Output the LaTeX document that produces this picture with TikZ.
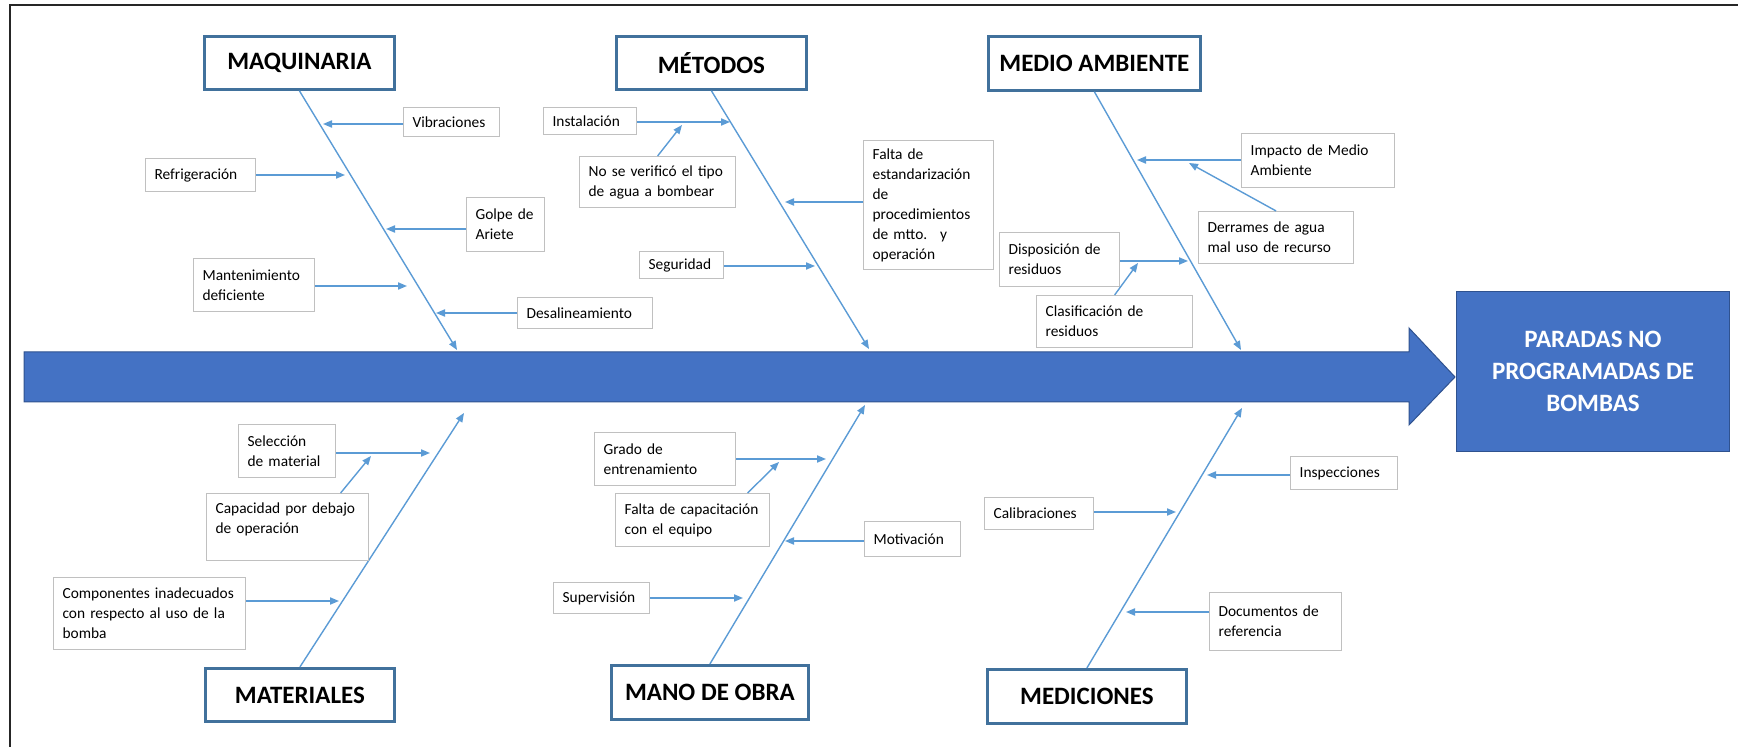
\documentclass[tikz,border=0pt]{standalone}
\usepackage{fontspec}
\setmainfont{Carlito}
\usetikzlibrary{arrows.meta}

\definecolor{azulfondo}{HTML}{4472C4}
\definecolor{azulborde}{HTML}{2F528F}
\definecolor{azulhueso}{HTML}{5B9BD5}
\definecolor{azulcat}{HTML}{41719C}
\definecolor{grisborde}{HTML}{C0C0C0}

\tikzset{
  categoria/.style={draw=azulcat, line width=1.4pt, fill=white, anchor=north west, inner sep=0pt, font=\fontsize{12.5}{15}\selectfont\bfseries},
  causa/.style={draw=grisborde, line width=0.6pt, fill=white, anchor=north west, align=left, inner xsep=4.5pt, inner ysep=3pt, font=\fontsize{7.7}{10}\selectfont},
  hueso/.style={draw=azulhueso, line width=0.7pt, -{Triangle[length=4.5pt,width=3.6pt]}},
  efecto/.style={fill=azulfondo, draw=azulborde, line width=0.5pt, anchor=north west, align=center, text=white, font=\fontsize{12.5}{16}\selectfont\bfseries}
}

\begin{document}
\begin{tikzpicture}[x=0.5pt, y=-0.5pt]
\useasboundingbox (0,0) rectangle (1738,747);

% Frame
\draw[line width=1pt, black!85] (9.5,747) -- (9.5,5) -- (1738,5);

% Spine with arrow head
\filldraw[fill=azulfondo, draw=azulborde, line width=0.5pt] (24,352) -- (1409,352) -- (1409,328) -- (1455,377) -- (1409,425) -- (1409,402) -- (24,402) -- cycle;

% Effect
\node[efecto, minimum width=136.5pt, minimum height=80pt] (efec) at (1456,291) {PARADAS NO\\PROGRAMADAS DE\\BOMBAS};

% Categories
\node[categoria, minimum width=95pt, minimum height=26.5pt] (maq) at (203,35) {MAQUINARIA};
\node[categoria, minimum width=95pt, minimum height=26.5pt] (met) at (615,35) {MÉTODOS};
\node[categoria, minimum width=106pt, minimum height=27pt] (med) at (987,35) {MEDIO AMBIENTE};
\node[categoria, minimum width=94.5pt, minimum height=26.5pt] (mat) at (204,667) {MATERIALES};
\node[categoria, minimum width=98.5pt, minimum height=27pt] (mano) at (610,664) {MANO DE OBRA};
\node[categoria, minimum width=99.5pt, minimum height=27pt] (medic) at (986,668) {MEDICIONES};

% Bone ends
\coordinate (maq-p) at (457,350);
\coordinate (met-p) at (869,349);
\coordinate (med-p) at (1241,350);
\coordinate (mat-p) at (464,413);
\coordinate (mano-p) at (865,405);
\coordinate (medic-p) at (1242,408);

\draw[hueso] (maq.south) -- (maq-p);
\draw[hueso] (met.south) -- (met-p);
\draw[hueso] (med.south) -- (med-p);
\draw[hueso] (mat.north) -- (mat-p);
\draw[hueso] (mano.north) -- (mano-p);
\draw[hueso] (medic.north) -- (medic-p);

% Maquinaria
\node[causa, text width=39pt, minimum height=14.5pt] (vib) at (403,107) {Vibraciones};
\node[causa, text width=46pt, minimum height=16.5pt] (refr) at (145,158) {Refrigeración};
\node[causa, text width=30pt, minimum height=27pt] (golpe) at (466,197) {Golpe de\\Ariete};
\node[causa, text width=51.5pt, minimum height=26.5pt] (mant) at (193,258) {Mantenimiento\\deficiente};
\node[causa, text width=58.5pt, minimum height=15.5pt] (desal) at (517,297) {Desalineamiento};
\coordinate (vib-p) at (323,124);
\coordinate (refr-p) at (345,175);
\coordinate (golpe-p) at (386,229);
\coordinate (mant-p) at (407,286);
\coordinate (desal-p) at (436,313);
\draw[hueso] (vib-p -| vib.west) -- (vib-p);
\draw[hueso] (refr-p -| refr.east) -- (refr-p);
\draw[hueso] (golpe-p -| golpe.west) -- (golpe-p);
\draw[hueso] (mant-p -| mant.east) -- (mant-p);
\draw[hueso] (desal-p -| desal.west) -- (desal-p);

% Metodos
\node[causa, text width=37.5pt, minimum height=13.5pt] (inst) at (543,107) {Instalación};
\node[causa, text width=69pt, minimum height=25.5pt] (noverif) at (579,156) {No se verificó el tipo\\de agua a bombear};
\node[causa, text width=56pt, minimum height=64.5pt] (faltaest) at (863,140) {Falta de\\estandarización\\de\\procedimientos\\de mtto.~ y\\operación};
\node[causa, text width=33pt, minimum height=13.5pt] (seg) at (639,251) {Seguridad};
\coordinate (inst-p) at (730,122);
\coordinate (noverif-p) at (682,125);
\coordinate (faltaest-p) at (785,202);
\coordinate (seg-p) at (815,266);
\draw[hueso] (inst-p -| inst.east) -- (inst-p);
\draw[hueso] (noverif.north) -- (noverif-p);
\draw[hueso] (faltaest-p -| faltaest.west) -- (faltaest-p);
\draw[hueso] (seg-p -| seg.east) -- (seg-p);

% Medio ambiente
\node[causa, text width=67.5pt, minimum height=27pt] (impacto) at (1241,133) {Impacto de Medio\\Ambiente};
\node[causa, text width=68.5pt, minimum height=26pt] (derrames) at (1198,211) {Derrames de agua\\mal uso de recurso};
\node[causa, text width=51pt, minimum height=27pt] (dispos) at (999,232) {Disposición de\\residuos};
\node[causa, text width=69pt, minimum height=26pt] (clasif) at (1036,295) {Clasificación de\\residuos};
\coordinate (impacto-p) at (1137,160);
\coordinate (derrames-p) at (1189,163);
\coordinate (dispos-p) at (1188,261);
\coordinate (clasif-p) at (1138,263);
\draw[hueso] (impacto-p -| impacto.west) -- (impacto-p);
\draw[hueso] (derrames.north) -- (derrames-p);
\draw[hueso] (dispos-p -| dispos.east) -- (dispos-p);
\draw[hueso] (clasif.north) -- (clasif-p);

% Materiales
\node[causa, text width=39.5pt, minimum height=26.5pt] (selec) at (238,424) {Selección\\de material};
\node[causa, text width=72pt, minimum height=33.5pt, text depth=19pt] (capac) at (206,493) {Capacidad por debajo\\de operación};
\node[causa, text width=87pt, minimum height=36pt] (comp) at (53,577) {Componentes inadecuados\\con respecto al uso de la\\bomba};
\coordinate (selec-p) at (430,453);
\coordinate (capac-p) at (371,456);
\coordinate (comp-p) at (339,601);
\draw[hueso] (selec-p -| selec.east) -- (selec-p);
\draw[hueso] ([xshift=26.5pt]capac.north) -- (capac-p);
\draw[hueso] (comp-p -| comp.east) -- (comp-p);

% Mano de obra
\node[causa, text width=61.5pt, minimum height=26.5pt] (grado) at (594,432) {Grado de\\entrenamiento};
\node[causa, text width=68pt, minimum height=26.5pt] (faltacap) at (615,493) {Falta de capacitación\\con el equipo};
\node[causa, text width=39pt, minimum height=17.5pt] (motiv) at (864,521) {Motivación};
\node[causa, text width=39pt, minimum height=15.5pt] (superv) at (553,582) {Supervisión};
\coordinate (grado-p) at (826,459);
\coordinate (faltacap-p) at (779,462);
\coordinate (motiv-p) at (785,541);
\coordinate (superv-p) at (743,598);
\draw[hueso] (grado-p -| grado.east) -- (grado-p);
\draw[hueso] ([xshift=27.5pt]faltacap.north) -- (faltacap-p);
\draw[hueso] (motiv-p -| motiv.west) -- (motiv-p);
\draw[hueso] (superv-p -| superv.east) -- (superv-p);

% Mediciones
\node[causa, text width=44.5pt, minimum height=16.5pt] (insp) at (1290,456) {Inspecciones};
\node[causa, text width=45.5pt, minimum height=16pt] (calib) at (984,497) {Calibraciones};
\node[causa, text width=57pt, minimum height=29pt] (docs) at (1209,592) {Documentos de\\referencia};
\coordinate (insp-p) at (1207,475);
\coordinate (calib-p) at (1176,512);
\coordinate (docs-p) at (1126,612);
\draw[hueso] (insp-p -| insp.west) -- (insp-p);
\draw[hueso] (calib-p -| calib.east) -- (calib-p);
\draw[hueso] (docs-p -| docs.west) -- (docs-p);
\end{tikzpicture}
\end{document}
